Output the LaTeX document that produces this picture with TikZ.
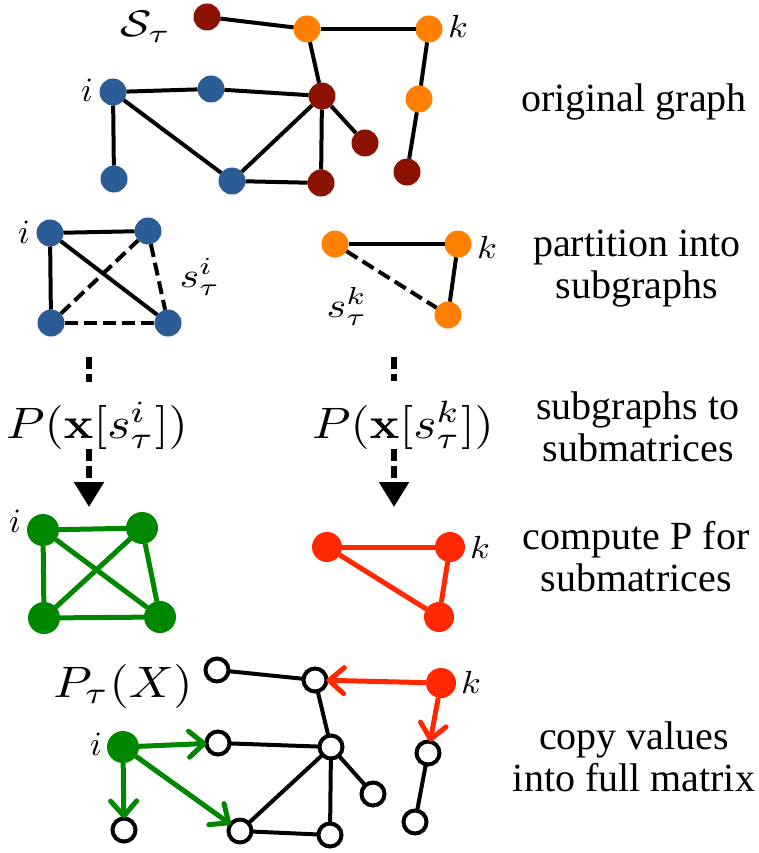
\documentclass[tikz,border=0pt]{standalone}
\usepackage[no-math]{fontspec}
\setmainfont{Liberation Serif}
\usepackage{graphicx}
\usetikzlibrary{arrows.meta}
\definecolor{cblue}{RGB}{44,92,150}
\definecolor{cdred}{RGB}{140,18,0}
\definecolor{corange}{RGB}{255,128,0}
\definecolor{cgreen}{RGB}{0,135,0}
\definecolor{cred}{RGB}{255,40,0}
\newcommand\mlab[3]{\scalebox{#1}[#2]{$#3$}}
\tikzset{
  nd/.style={circle, inner sep=0pt, outer sep=0pt, minimum size=27pt},
  nblue/.style={nd, fill=cblue},
  ndred/.style={nd, fill=cdred},
  norange/.style={nd, fill=corange},
  ngreen/.style={circle, inner sep=0pt, outer sep=0pt, minimum size=32pt, fill=cgreen},
  nred/.style={circle, inner sep=0pt, outer sep=0pt, minimum size=30pt, fill=cred},
  nwhite/.style={circle, inner sep=0pt, outer sep=0pt, minimum size=23pt, draw=black, line width=4pt, fill=white},
  edge/.style={line width=4pt, black},
  dedge/.style={line width=4pt, black, dash pattern=on 13pt off 6pt},
  gedge/.style={line width=5pt, cgreen},
  redge/.style={line width=5pt, cred},
  vdash/.style={line width=5.5pt, black, dash pattern=on 12pt off 5pt},
  bigtip/.style={-{Triangle[length=25pt,width=29pt]}},
  garrow/.style={line width=5pt, cgreen, -{Straight Barb[length=15pt,width=26pt,line join=round,line cap=round]}},
  rarrow/.style={line width=5pt, cred, -{Straight Barb[length=15pt,width=26pt,line join=round,line cap=round]}},
  lab/.style={inner sep=0pt, anchor=base},
  txt/.style={inner sep=0pt, align=center, font=\fontsize{40}{42}\selectfont},
}
\begin{document}
\begin{tikzpicture}[x=1pt,y=-1pt]
\path[use as bounding box, fill=white] (0,0) rectangle (759,853);

% ---------- original graph ----------
\node[ndred]   (a1)  at (207,17)  {};
\node[norange] (a2)  at (307,29)  {};
\node[norange] (a3)  at (429,29)  {};
\node[norange] (a4)  at (419,99)  {};
\node[ndred]   (a5)  at (407,172) {};
\node[nblue]   (a6)  at (113,92)  {};
\node[nblue]   (a7)  at (211,89)  {};
\node[ndred]   (a8)  at (322,96)  {};
\node[ndred]   (a9)  at (365,143) {};
\node[nblue]   (a10) at (114,179) {};
\node[nblue]   (a11) at (232,181) {};
\node[ndred]   (a12) at (321,183) {};
\draw[edge] (a1) -- (a2);
\draw[edge] (a2) -- (a3);
\draw[edge] (a2) -- (a8);
\draw[edge] (a3) -- (a4);
\draw[edge] (a4) -- (a5);
\draw[edge] (a6) -- (a7);
\draw[edge] (a7) -- (a8);
\draw[edge] (a6) -- (a10);
\draw[edge] (a6) -- (a11);
\draw[edge] (a11) -- (a8);
\draw[edge] (a8) -- (a12);
\draw[edge] (a8) -- (a9);
\draw[edge] (a11) -- (a12);
\node[lab] (lS)  at (146,37)  {\mlab{4.6}{3.7}{\mathcal{S}_\tau}};
\node[lab] (lk1) at (458,38)  {\mlab{3.6}{3.2}{k}};
\node[lab] (li1) at (87,102)  {\mlab{3.4}{3.4}{i}};

% ---------- subgraphs ----------
\node[nblue] (b1) at (50,233)  {};
\node[nblue] (b2) at (148,231) {};
\node[nblue] (b3) at (51,323)  {};
\node[nblue] (b4) at (168,323) {};
\draw[edge]  (b1) -- (b2);
\draw[edge]  (b1) -- (b3);
\draw[edge]  (b1) -- (b4);
\draw[dedge] (b3) -- (b2);
\draw[dedge] (b2) -- (b4);
\draw[dedge] (b3) -- (b4);
\node[lab] (li2) at (24,243)  {\mlab{3.4}{3.4}{i}};
\node[lab] (lsi) at (200,287) {\mlab{4.2}{3.5}{s_\tau^i}};

\node[norange] (c1) at (335,244) {};
\node[norange] (c2) at (458,244) {};
\node[norange] (c3) at (448,315) {};
\draw[edge]  (c1) -- (c2);
\draw[edge]  (c2) -- (c3);
\draw[dedge] (c1) -- (c3);
\node[lab] (lk2) at (487,258) {\mlab{3.6}{3.2}{k}};
\node[lab] (lsk) at (347,317) {\mlab{4.2}{3.5}{s_\tau^k}};

% ---------- subgraphs to submatrices ----------
\node[lab] (pi) at (97,438)  {\mlab{4.93}{4.4}{P(\mathbf{x}[s_\tau^i])}};
\node[lab] (pk) at (403,438) {\mlab{4.93}{4.4}{P(\mathbf{x}[s_\tau^k])}};
\coordinate (ti) at (89,357);
\coordinate (hi) at (89,507);
\coordinate (tk) at (394,357);
\coordinate (hk) at (394,507);
\draw[vdash, shorten >=19pt] (ti) -- (ti |- pi.north);
\draw[vdash, bigtip] (hi |- pi.south) -- (hi);
\draw[vdash, shorten >=19pt] (tk) -- (tk |- pk.north);
\draw[vdash, bigtip] (hk |- pk.south) -- (hk);

% ---------- computed submatrices ----------
\node[ngreen] (g1) at (43,530)  {};
\node[ngreen] (g2) at (142,528) {};
\node[ngreen] (g3) at (44,618)  {};
\node[ngreen] (g4) at (160,617) {};
\draw[gedge] (g1) -- (g2);
\draw[gedge] (g1) -- (g3);
\draw[gedge] (g1) -- (g4);
\draw[gedge] (g2) -- (g3);
\draw[gedge] (g2) -- (g4);
\draw[gedge] (g3) -- (g4);
\node[lab] (li3) at (15,532) {\mlab{3.4}{3.4}{i}};

\node[nred] (r1) at (327,547) {};
\node[nred] (r2) at (450,547) {};
\node[nred] (r3) at (439,617) {};
\draw[redge] (r1) -- (r2);
\draw[redge] (r2) -- (r3);
\draw[redge] (r1) -- (r3);
\node[lab] (lk3) at (480,558) {\mlab{3.6}{3.2}{k}};

% ---------- full matrix ----------
\node[nwhite] (w1)  at (217,670) {};
\node[nwhite] (w2)  at (315,680) {};
\node[nred]   (rk)  at (441,683) {};
\node[nwhite] (w3)  at (218,743) {};
\node[ngreen] (gi)  at (123,747) {};
\node[nwhite] (w4)  at (331,747) {};
\node[nwhite] (w5)  at (428,753) {};
\node[nwhite] (w6)  at (373,794) {};
\node[nwhite] (w7)  at (124,830) {};
\node[nwhite] (w8)  at (240,831) {};
\node[nwhite] (w9)  at (330,835) {};
\node[nwhite] (w10) at (415,822) {};
\draw[edge] (w1) -- (w2);
\draw[edge] (w2) -- (w4);
\draw[edge] (w3) -- (w4);
\draw[edge] (w4) -- (w6);
\draw[edge] (w4) -- (w9);
\draw[edge] (w4) -- (w8);
\draw[edge] (w8) -- (w9);
\draw[edge] (w5) -- (w10);
\draw[garrow] (gi) -- (w3);
\draw[garrow] (gi) -- (w7);
\draw[garrow] (gi) -- (w8);
\draw[rarrow] (rk) -- (w2);
\draw[rarrow] (rk) -- (w5);
\node[lab] (lP)  at (123,697) {\mlab{4.93}{4.4}{P_\tau(X)}};
\node[lab] (li4) at (96,755)  {\mlab{3.4}{3.4}{i}};
\node[lab] (lk4) at (471,693) {\mlab{3.6}{3.2}{k}};

% ---------- step descriptions ----------
\node[txt] (s1) at (634,102) {original graph};
\node[txt] (s2) at (637,269) {partition into\\subgraphs};
\node[txt] (s3) at (638,427) {subgraphs to\\submatrices};
\node[txt] (s4) at (636,557) {compute P for\\submatrices};
\node[txt] (s5) at (634,757) {copy values\\into full matrix};
\end{tikzpicture}
\end{document}
